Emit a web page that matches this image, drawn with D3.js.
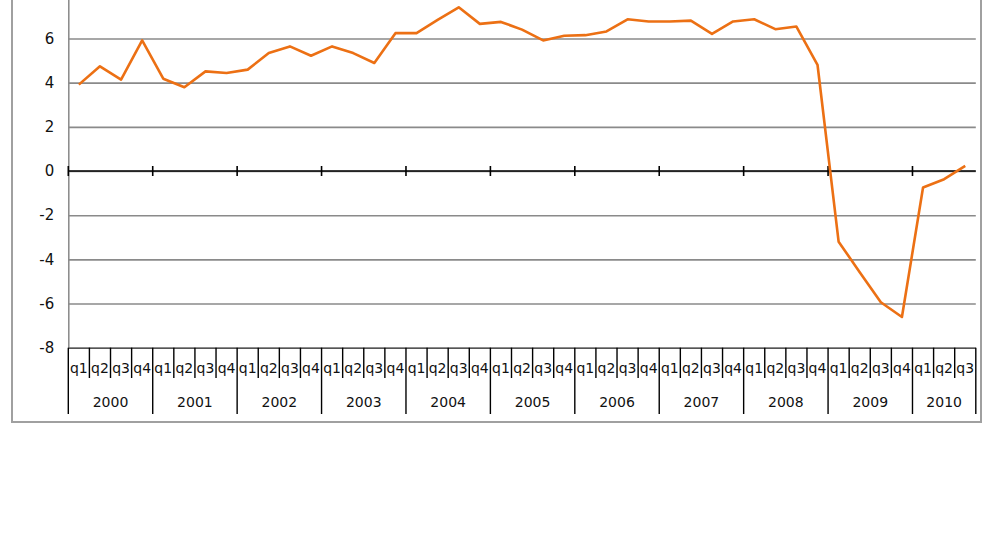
<!DOCTYPE html>
<html>
<head>
<meta charset="utf-8">
<script src="https://cdn.jsdelivr.net/npm/d3@7"></script>
<style>
html,body{margin:0;padding:0;background:#fff;}
svg{display:block;}
text{font-family:"DejaVu Sans",Verdana,sans-serif;fill:#111;}
</style>
</head>
<body>
<svg id="chart" width="1001" height="538"></svg>
<script>
const years = ["2000","2001","2002","2003","2004","2005","2006","2007","2008","2009","2010"];
const quarterNames = ["q1","q2","q3","q4"];
const values = [3.91,4.74,4.14,5.91,4.18,3.79,4.51,4.44,4.59,5.34,5.64,5.22,5.64,5.34,4.89,6.24,6.24,6.84,7.41,6.66,6.75,6.40,5.91,6.12,6.15,6.32,6.87,6.77,6.77,6.81,6.21,6.77,6.87,6.42,6.54,4.81,-3.20,-4.58,-5.94,-6.61,-0.75,-0.37,0.23];
const yTicks = [-8,-6,-4,-2,0,2,4,6,8];

const categories = values.map((v,i)=>({year:years[Math.floor(i/4)], q:quarterNames[i%4], idx:i, v}));

const svg = d3.select("#chart");
const plotLeft = 68.3, plotRight = 975.8, plotTop = -5.7, plotBottom = 347.7;

const x = d3.scaleBand().domain(categories.map(d=>d.idx)).range([plotLeft,plotRight]).padding(0);
const y = d3.scaleLinear().domain([-8,8]).range([plotBottom, plotTop]);

// outer border
svg.append("rect").attr("x",12).attr("y",-20).attr("width",969).attr("height",442)
  .attr("fill","none").attr("stroke","#a0a0a0").attr("stroke-width",2);

// y axis with gridlines
const yAxis = d3.axisLeft(y).tickValues(yTicks).tickSize(-(plotRight-plotLeft)).tickPadding(14)
  .tickFormat(d=>String(d));
const gy = svg.append("g").attr("transform",`translate(${plotLeft},0)`).call(yAxis);
gy.select(".domain").attr("stroke","#888").attr("stroke-width",1.5);
gy.selectAll(".tick line").attr("stroke",d=>d===-8?"#555":"#8a8a8a").attr("stroke-width",1.6);
gy.selectAll(".tick text").attr("font-size",15).attr("fill","#111").attr("font-family","DejaVu Sans, sans-serif");

// zero line with year ticks
svg.append("line").attr("x1",plotLeft).attr("x2",plotRight).attr("y1",y(0)).attr("y2",y(0))
  .attr("stroke","#000").attr("stroke-width",1.6);
const yearStarts = categories.filter(d=>d.idx%4===0);
svg.append("g").selectAll("line").data(yearStarts).join("line")
  .attr("x1",d=>x(d.idx)).attr("x2",d=>x(d.idx))
  .attr("y1",y(0)-5).attr("y2",y(0)+5).attr("stroke","#000").attr("stroke-width",1.6);

// category axis below
const gx = svg.append("g");
gx.selectAll("line.qsep").data(categories).join("line").attr("class","qsep")
  .attr("x1",d=>x(d.idx)).attr("x2",d=>x(d.idx))
  .attr("y1",plotBottom).attr("y2",d=>d.idx%4===0?414:378)
  .attr("stroke","#000").attr("stroke-width",1.4);
gx.append("line").attr("x1",plotRight).attr("x2",plotRight).attr("y1",plotBottom).attr("y2",414)
  .attr("stroke","#000").attr("stroke-width",1.4);
gx.selectAll("text.q").data(categories).join("text").attr("class","q")
  .attr("x",d=>x(d.idx)+x.bandwidth()/2).attr("y",373)
  .attr("text-anchor","middle").attr("font-size",14).text(d=>d.q);
gx.selectAll("text.yr").data(years).join("text").attr("class","yr")
  .attr("x",(d,i)=>{
    const first = i*4, last = Math.min(i*4+3, values.length-1);
    return (x(first) + x(last) + x.bandwidth())/2;
  })
  .attr("y",407).attr("text-anchor","middle").attr("font-size",14).text(d=>d);

// data line
const line = d3.line().x(d=>x(d.idx)+x.bandwidth()/2).y(d=>y(d.v));
svg.append("path").datum(categories).attr("d",line)
  .attr("fill","none").attr("stroke","#ec7014").attr("stroke-width",2.6).attr("stroke-linejoin","round");
</script>
</body>
</html>
